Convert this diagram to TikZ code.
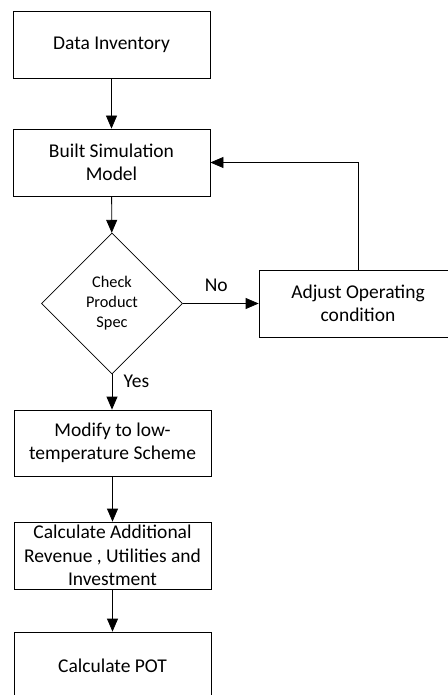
\documentclass[tikz,border=0pt]{standalone}
\usepackage{fontspec}
\setmainfont{Carlito}
\usepackage{tikz}
\usetikzlibrary{positioning}
\usetikzlibrary{arrows.meta, shapes.geometric}

\tikzset{
    procbox/.style={draw, line width=0.8pt, minimum width=197pt, minimum height=67pt,
        align=center, inner sep=2pt, font=\fontsize{19.5}{23.5}\selectfont},
    decisionbox/.style={draw, diamond, aspect=1, line width=0.8pt, minimum width=141pt,
        minimum height=141pt, inner sep=0pt, align=center, font=\fontsize{16.3}{20}\selectfont},
    flow/.style={-{Triangle[length=13pt,width=11pt]}, line width=0.8pt},
    lbl/.style={font=\fontsize{19.5}{23.5}\selectfont}
}

\begin{document}
\begin{tikzpicture}[x=1pt, y=-1pt]
        \useasboundingbox (0,0) rectangle (447,695);
        \node[procbox] (data) at (111.5,44.5) {Data Inventory};
        \node[procbox] (model) at (111.5,162.5) {Built Simulation\\Model};
        \node[decisionbox] (check) at (112,303.5) {Check\\Product\\Spec};
        \node[procbox, minimum width=198pt] (adjust) at (358,303.5) {Adjust Operating\\condition};
        \node[procbox, minimum height=66pt] (modify) at (112.5,443) {Modify to low-\\temperature Scheme};
        \node[procbox] (calc) at (112.5,555.5) {Calculate Additional\\Revenue , Utilities and\\Investment};
        \node[procbox] (pot) at (112.5,665.5) {Calculate POT};

        \draw[flow] (data) -- (model);
        \draw[flow] (model) -- (check);
        \draw[flow] (check.east) -- node[lbl, above=8pt, pos=0.44] (nolbl) {No} (adjust.west);
        \draw[flow] (adjust.north) |- (model.east);
        \draw[flow] (check.south) -- node[lbl, right=8pt, pos=0.2] (yeslbl) {Yes} (modify.north -| check.south);
        \draw[flow] (modify) -- (calc);
        \draw[flow] (calc) -- (pot);
    \end{tikzpicture}
\end{document}
